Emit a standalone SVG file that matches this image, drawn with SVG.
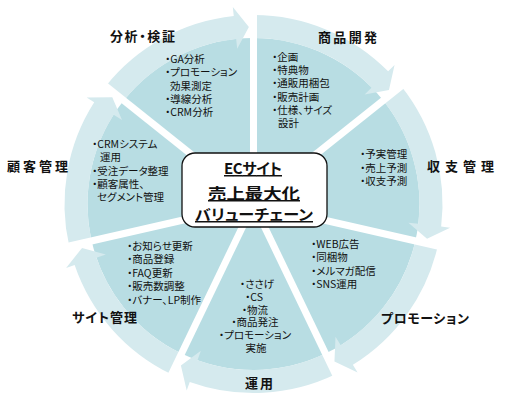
<svg xmlns="http://www.w3.org/2000/svg" width="529" height="409" viewBox="0 0 529 409">
<style>
.slice{fill:#b8dde3}
.arrow{fill:#d5eaee}
.gap{stroke:#fff;stroke-width:7}
text{font-family:"Noto Sans CJK JP","Noto Sans CJK SC",sans-serif;font-feature-settings:"palt";fill:#111}
.lbl{font-size:13px;font-weight:bold}
.item{font-size:10.5px}
.mid{text-anchor:middle}
.title{font-size:15px;font-weight:bold;text-decoration:underline;text-anchor:middle}
.box{fill:#fff;stroke:#111;stroke-width:1.3}
</style>
<defs>
<path id="slice" class="slice" d="M0 0 L0 -166 A166 166 0 0 1 129.78 -103.5 Z"/>
<path id="arw" class="arrow" d="M0 -166 L0 -189 A189 189 0 0 1 134.65 -132.64 L141.06 -138.96 L135.45 -113.94 L111.14 -109.48 L118.26 -116.5 A166 166 0 0 0 0 -166 Z"/>
<line id="gapline" class="gap" x1="0" y1="0" x2="0" y2="-208"/>
</defs>
<rect width="529" height="409" fill="#fff"/>
<g id="segments" transform="translate(253.5 204)">
<use href="#slice"/>
<use href="#slice" transform="rotate(51.4286)"/>
<use href="#slice" transform="rotate(102.857)"/>
<use href="#slice" transform="rotate(154.286)"/>
<use href="#slice" transform="rotate(205.714)"/>
<use href="#slice" transform="rotate(257.143)"/>
<use href="#slice" transform="rotate(308.571)"/>
</g>
<g id="connectors" transform="translate(253.5 204)">
<use href="#arw"/>
<use href="#arw" transform="rotate(51.4286)"/>
<use href="#arw" transform="rotate(102.857)"/>
<use href="#arw" transform="rotate(154.286)"/>
<use href="#arw" transform="rotate(205.714)"/>
<use href="#arw" transform="rotate(257.143)"/>
<use href="#arw" transform="rotate(308.571)"/>
<use href="#gapline"/>
<use href="#gapline" transform="rotate(51.4286)"/>
<use href="#gapline" transform="rotate(102.857)"/>
<use href="#gapline" transform="rotate(154.286)"/>
<use href="#gapline" transform="rotate(205.714)"/>
<use href="#gapline" transform="rotate(257.143)"/>
<use href="#gapline" transform="rotate(308.571)"/>
</g>
<g id="node-shohin">
<text class="lbl" x="318" y="42" textLength="59">商品開発</text>
<text class="item" x="272" y="61">・企画</text>
<text class="item" x="272" y="74.2">・特典物</text>
<text class="item" x="272" y="87.4">・通販用梱包</text>
<text class="item" x="272" y="100.6">・販売計画</text>
<text class="item" x="272" y="113.8">・仕様、サイズ</text>
<text class="item" x="278" y="127">設計</text>
</g>
<g id="node-shushi">
<text class="lbl" x="427" y="171" textLength="67">収支管理</text>
<text class="item" x="360" y="158">・予実管理</text>
<text class="item" x="360" y="171.5">・売上予測</text>
<text class="item" x="360" y="185">・収支予測</text>
</g>
<g id="node-promotion">
<text class="lbl" x="381" y="323" textLength="88">プロモーション</text>
<text class="item" x="311" y="248">・WEB広告</text>
<text class="item" x="311" y="261.3">・同梱物</text>
<text class="item" x="311" y="274.6">・メルマガ配信</text>
<text class="item" x="311" y="288">・SNS運用</text>
</g>
<g id="node-unyo">
<text class="lbl" x="245" y="388" textLength="28">運用</text>
<text class="item mid" x="257" y="288">・ささげ</text>
<text class="item mid" x="254" y="300.8">・CS</text>
<text class="item mid" x="255" y="313.6">・物流</text>
<text class="item mid" x="255" y="326.4">・商品発注</text>
<text class="item mid" x="255" y="339.2">・プロモーション</text>
<text class="item mid" x="256" y="352">実施</text>
</g>
<g id="node-site">
<text class="lbl" x="72" y="322" textLength="65">サイト管理</text>
<text class="item" x="127" y="250">・お知らせ更新</text>
<text class="item" x="127" y="263.4">・商品登録</text>
<text class="item" x="127" y="276.8">・FAQ更新</text>
<text class="item" x="127" y="290.2">・販売数調整</text>
<text class="item" x="127" y="303.6">・バナー、LP制作</text>
</g>
<g id="node-kokyaku">
<text class="lbl" x="7" y="171" textLength="61">顧客管理</text>
<text class="item" x="92" y="148">・CRMシステム</text>
<text class="item" x="100" y="161.3">運用</text>
<text class="item" x="92" y="174.6">・受注データ整理</text>
<text class="item" x="92" y="188">・顧客属性、</text>
<text class="item" x="97" y="201.3">セグメント管理</text>
</g>
<g id="node-bunseki">
<text class="lbl" x="110" y="41" textLength="65">分析・検証</text>
<text class="item" x="165" y="63">・GA分析</text>
<text class="item" x="165" y="76.3">・プロモーション</text>
<text class="item" x="170" y="89.6">効果測定</text>
<text class="item" x="165" y="102.9">・導線分析</text>
<text class="item" x="165" y="116.2">・CRM分析</text>
</g>
<g id="node-center">
<rect class="box" x="182" y="153" width="145" height="74" rx="13"/>
<text class="title" x="253" y="174" textLength="58">ECサイト</text>
<text class="title" x="254" y="199" textLength="92" lengthAdjust="spacingAndGlyphs">売上最大化</text>
<text class="title" x="254" y="220" textLength="118" lengthAdjust="spacingAndGlyphs">バリューチェーン</text>
</g>
</svg>
